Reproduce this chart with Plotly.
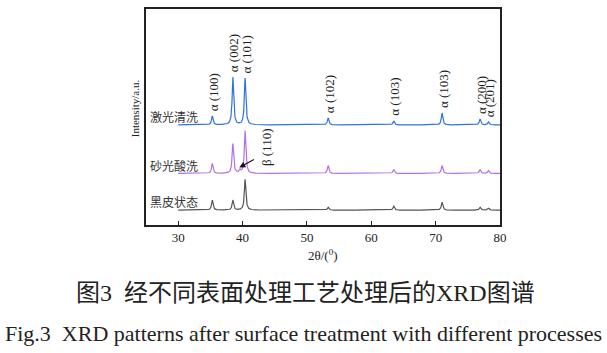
import numpy as np
import plotly.graph_objects as go

# ---- data ----
peak_pos = [35.3, 38.5, 40.4, 53.3, 63.5, 71.0, 76.9, 78.2]
peak_labels = ["α (100)", "α (002)", "α (101)", "α (102)", "α (103)", "α (103)", "α (200)", "α (201)"]
h_laser = [9, 48, 47, 7, 4, 12, 6, 3]      # 激光清洗
h_sand = [10, 30, 43, 8, 4, 8, 4, 3]       # 砂光酸洗
h_black = [10, 10, 31, 3, 4, 8, 3, 2]      # 黑皮状态
beta_pos = 39.6
beta_h_sand = 3
series_names = ["激光清洗", "砂光酸洗", "黑皮状态"]
offsets = [101, 52, 15]
colors = ["#2f73dc", "#b66fe0", "#555555"]
x_ticks = [30, 40, 50, 60, 70, 80]

two_theta = np.arange(30, 80.001, 0.02)
fwhm = 0.28

def profile(pos, hts):
    y = np.zeros_like(two_theta)
    g = fwhm / 2
    for p, h in zip(pos, hts):
        y += h * g**2 / ((two_theta - p) ** 2 + g**2)
    return y

curves = [
    profile(peak_pos, h_laser),
    profile(peak_pos + [beta_pos], h_sand + [beta_h_sand]),
    profile(peak_pos, h_black),
]

fig = go.Figure()
for name, off, col, c in zip(series_names, offsets, colors, curves):
    fig.add_trace(go.Scatter(x=two_theta, y=c + off, mode="lines",
                             line=dict(color=col, width=1.2), name=name,
                             showlegend=False))

serif = "Liberation Serif"
mixed = "Liberation Serif, Noto Sans CJK SC"
ann = []
# peak labels above top curve
for i, (p, lab, h) in enumerate(zip(peak_pos, peak_labels, h_laser)):
    ann.append(dict(x=p + (0.3 if i == 7 else 0.15), y=offsets[0] + h + 3, xref="x", yref="y",
                    text=lab, textangle=-90, showarrow=False,
                    xanchor="center", yanchor="bottom",
                    font=dict(family=serif, size=13, color="#222")))
# beta label and arrow
ann.append(dict(x=43.7, y=79, xref="x", yref="y", text="β (110)", textangle=-90,
                showarrow=False, font=dict(family=serif, size=13, color="#222")))
ann.append(dict(x=beta_pos - 0.1, y=offsets[1] + 6, xref="x", yref="y", ax=42.0, ay=67,
                axref="x", ayref="y", text="", showarrow=True, arrowhead=2,
                arrowsize=1.1, arrowwidth=1.1, arrowcolor="#111"))
# sample names
for name, off in zip(series_names, offsets):
    ann.append(dict(x=33.4, y=off + 7, xref="x", yref="y", text=name, showarrow=False,
                    xanchor="right", yanchor="middle",
                    font=dict(family=mixed, size=12, color="#333")))
# axis titles
ann.append(dict(x=-0.054, y=0.54, xref="paper", yref="paper", text="Intensity/a.u.",
                textangle=-90, showarrow=False, font=dict(family=serif, size=11, color="#222")))
ann.append(dict(x=0.5, y=(225 - 255) / 218, xref="paper", yref="paper", text="2θ/(<sup>0</sup>)",
                showarrow=False, yanchor="middle", font=dict(family=serif, size=13, color="#222")))
# captions
ann.append(dict(x=(305 - 146) / 354, y=(225 - 294) / 218, xref="paper", yref="paper",
                text="图3  经不同表面处理工艺处理后的XRD图谱", showarrow=False,
                xanchor="center", yanchor="middle",
                font=dict(family=mixed, size=24, color="#222")))
ann.append(dict(x=(303 - 146) / 354, y=(225 - 334) / 218, xref="paper", yref="paper",
                text="Fig.3  XRD patterns after surface treatment with different processes",
                showarrow=False, xanchor="center", yanchor="middle",
                font=dict(family=serif, size=22, color="#222")))

fig.update_layout(
    width=607, height=353,
    margin=dict(l=146, r=107, t=7, b=128),
    paper_bgcolor="white", plot_bgcolor="white",
    annotations=ann,
    xaxis=dict(range=[25, 80], tickvals=x_ticks, ticks="inside", ticklen=4,
               tickcolor="#222", showline=True, linecolor="#222", linewidth=1.5,
               mirror=True, showgrid=False, zeroline=False,
               tickfont=dict(family=serif, size=13, color="#222")),
    yaxis=dict(range=[0, 218], showticklabels=False, ticks="", showline=True,
               linecolor="#222", linewidth=1.5, mirror=True, showgrid=False,
               zeroline=False),
)
fig.write_html("out.html")
